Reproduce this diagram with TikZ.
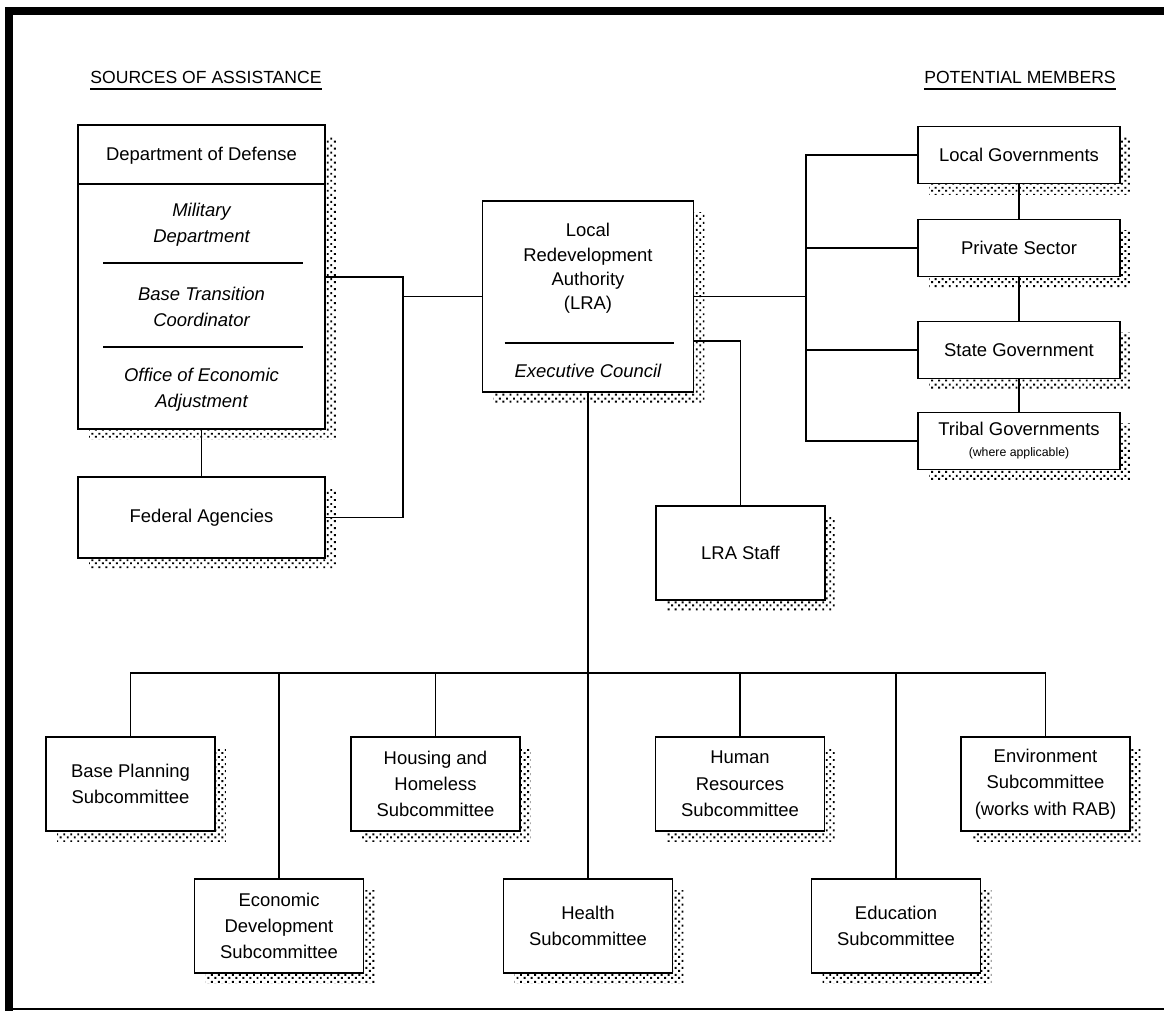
\documentclass[tikz,border=0pt]{standalone}
\usepackage{fontspec}
\setmainfont{Liberation Sans}
\usepackage{tikz}
\usetikzlibrary{calc,patterns}

\pgfdeclarepatternformonly{stipple}{\pgfqpoint{-1pt}{-1pt}}{\pgfqpoint{4pt}{4pt}}{\pgfqpoint{4pt}{4pt}}
{\pgfpathrectangle{\pgfqpoint{0pt}{0pt}}{\pgfqpoint{1.1pt}{1.1pt}}
 \pgfpathrectangle{\pgfqpoint{2pt}{2.3pt}}{\pgfqpoint{1.1pt}{1.1pt}}
 \pgfusepath{fill}}

\tikzset{
  box/.style={draw,line width=1.1pt,fill=white,inner sep=1pt,align=center,
    font=\fontsize{10.5}{15}\selectfont,
    preaction={draw=none,pattern=stipple,transform canvas={shift={(0.22cm,-0.22cm)}}}},
  sub/.style={box,minimum width=3.38cm,minimum height=1.88cm},
  member/.style={box,minimum width=4.04cm,minimum height=1.14cm},
  txt/.style={align=center,inner sep=0pt,font=\fontsize{10.5}{15}\selectfont},
  ital/.style={txt,font=\fontsize{10.5}{15}\selectfont\itshape},
  head/.style={inner sep=0pt,font=\fontsize{10}{12}\selectfont},
  rule/.style={line width=1.1pt},
  link/.style={line width=1.1pt}
}

\begin{document}
\begin{tikzpicture}[x=0.02cm,y=-0.02cm]
        \useasboundingbox (0,0) rectangle (1164,1011);
        \fill (5,7) rectangle (1164,15);
        \fill (5,7) rectangle (13,1011);
        \fill (5,1008) rectangle (1164,1010);

        \node[head] (srchead) at (206,77) {SOURCES OF ASSISTANCE};
        \node[head] (memhead) at (1020,77) {POTENTIAL MEMBERS};
        \draw[rule] ($(srchead.south west)+(0,5)$) -- ($(srchead.south east)+(0,5)$);
        \draw[rule] ($(memhead.south west)+(0,5)$) -- ($(memhead.south east)+(0,5)$);

        \node[box,minimum width=4.94cm,minimum height=6.08cm] (dod) at (201.5,277) {};
        \node[txt] (dodname) at (201.5,156) {Department of Defense};
        \node[ital] (milit) at (201.5,225) {Military\\Department};
        \node[ital] (btc) at (201.5,307) {Base Transition\\Coordinator};
        \node[ital] (oea) at (201.5,390) {Office of Economic\\Adjustment};
        \draw[rule] ($(dod.north west)+(0,60)$) -- ($(dod.north east)+(0,60)$);
        \draw[rule] ($(dod.north west)+(26,139)$) -- ($(dod.north east)+(-23,139)$);
        \draw[rule] ($(dod.north west)+(26,223)$) -- ($(dod.north east)+(-23,223)$);
        \node[box,minimum width=4.94cm,minimum height=1.62cm] (fed) at (201.5,517.5) {Federal Agencies};

        \node[box,minimum width=4.22cm,minimum height=3.82cm] (lra) at (588,296.5) {};
        \node[txt,font=\fontsize{10.5}{13.8}\selectfont] (lraname) at (588,268.5) {Local\\Redevelopment\\Authority\\(LRA)};
        \draw[rule] ($(lra.south west)+(23,-50)$) -- ($(lra.south east)+(-20,-50)$);
        \node[ital] (lraexec) at (588,371) {Executive Council};
        \node[box,minimum width=3.38cm,minimum height=1.88cm] (staff) at (740.5,553) {LRA Staff};

        \node[member] (local) at (1019,155) {Local Governments};
        \node[member] (private) at (1019,248) {Private Sector};
        \node[member] (state) at (1019,350) {State Government};
        \node[member] (tribal) at (1019,441) {Tribal Governments\\[-3pt]{\fontsize{7}{8}\selectfont(where applicable)}};

        \node[sub] (base) at (130.5,784) {Base Planning\\Subcommittee};
        \node[sub] (housing) at (435.5,784) {Housing and\\Homeless\\Subcommittee};
        \node[sub] (human) at (740,784) {Human\\Resources\\Subcommittee};
        \node[sub] (environ) at (1045.5,784) {Environment\\Subcommittee\\(works with RAB)};
        \node[sub] (econ) at (279,926) {Economic\\Development\\Subcommittee};
        \node[sub] (health) at (588,926) {Health\\Subcommittee};
        \node[sub] (educ) at (896,926) {Education\\Subcommittee};

        \coordinate (lcol) at (403,0);
        \coordinate (rcol) at (806,0);
        \coordinate (hub) at (588,673);
        \draw[link] (dod.south) -- (fed.north);
        \draw[link] (dod.east) -| (fed.east -| lcol) -- (fed.east);
        \draw[link] (lra.west) -- (lra.west -| lcol);
        \draw[link] (lra.east) -- (lra.east -| rcol);
        \foreach \m in {local,private,state,tribal}
          \draw[link] (\m.west) -| (lra.east -| rcol);
        \draw[link] (local.south) -- (private.north);
        \draw[link] (private.south) -- (state.north);
        \draw[link] (state.south) -- (tribal.north);
        \draw[link] ($(lra.south east)+(0,-52)$) -| (staff.north);
        \draw[link] (lra.south) -- (health.north);
        \foreach \s in {base,housing,human,environ,econ,educ}
          \draw[link] (\s.north) |- (hub);
\end{tikzpicture}
\end{document}
